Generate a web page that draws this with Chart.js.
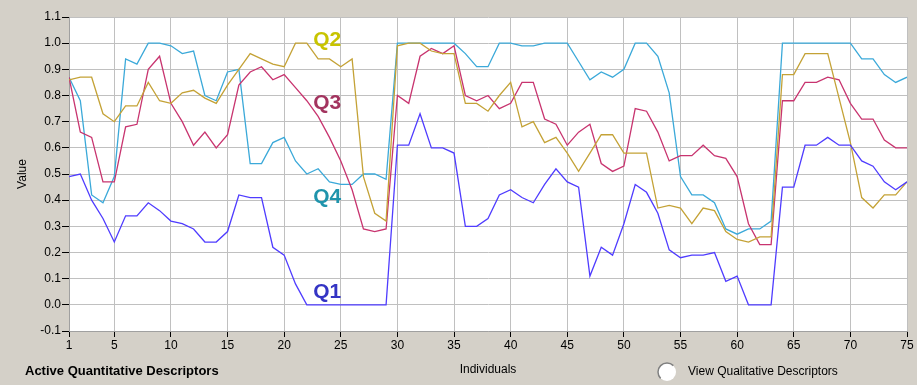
<!DOCTYPE html>
<html>
<head>
<meta charset="utf-8">
<script src="https://cdn.jsdelivr.net/npm/chart.js@4.4.1/dist/chart.umd.min.js"></script>
<style>
  html, body { margin: 0; padding: 0; background: #d4d0c8; }
  #wrap { width: 917px; height: 385px; }
</style>
</head>
<body>
<div id="wrap"><canvas id="chart" width="917" height="385"></canvas></div>
<script>
// Data (75 individuals, 4 quantitative descriptors)
const individuals = Array.from({ length: 75 }, (_, i) => i + 1);
const xTicks = [1, 5, 10, 15, 20, 25, 30, 35, 40, 45, 50, 55, 60, 65, 70, 75];
const yTicks = [-0.1, 0.0, 0.1, 0.2, 0.3, 0.4, 0.5, 0.6, 0.7, 0.8, 0.9, 1.0, 1.1];

const q1 = [0.49, 0.50, 0.40, 0.33, 0.24, 0.34, 0.34, 0.39, 0.36, 0.32,
            0.31, 0.29, 0.24, 0.24, 0.28, 0.42, 0.41, 0.41, 0.22, 0.19,
            0.08, 0.00, 0.00, 0.00, 0.00, 0.00, 0.00, 0.00, 0.00, 0.61,
            0.61, 0.73, 0.60, 0.60, 0.58, 0.30, 0.30, 0.33, 0.42, 0.44,
            0.41, 0.39, 0.46, 0.52, 0.47, 0.45, 0.11, 0.22, 0.19, 0.31,
            0.46, 0.43, 0.35, 0.21, 0.18, 0.19, 0.19, 0.20, 0.09, 0.11,
            0.00, 0.00, 0.00, 0.45, 0.45, 0.61, 0.61, 0.64, 0.61, 0.61,
            0.55, 0.53, 0.47, 0.44, 0.47];

const q2 = [0.86, 0.87, 0.87, 0.73, 0.70, 0.76, 0.76, 0.85, 0.78, 0.77,
            0.81, 0.82, 0.79, 0.77, 0.84, 0.90, 0.96, 0.94, 0.92, 0.91,
            1.00, 1.00, 0.94, 0.94, 0.91, 0.94, 0.49, 0.35, 0.32, 0.99,
            1.00, 1.00, 0.97, 0.96, 0.96, 0.77, 0.77, 0.74, 0.80, 0.85,
            0.68, 0.70, 0.62, 0.64, 0.58, 0.51, 0.58, 0.65, 0.65, 0.58,
            0.58, 0.58, 0.37, 0.38, 0.37, 0.31, 0.37, 0.36, 0.28, 0.25,
            0.24, 0.26, 0.26, 0.88, 0.88, 0.96, 0.96, 0.96, 0.79, 0.62,
            0.41, 0.37, 0.42, 0.42, 0.47];

const q3 = [0.87, 0.66, 0.64, 0.47, 0.47, 0.68, 0.69, 0.90, 0.95, 0.77,
            0.70, 0.61, 0.66, 0.60, 0.65, 0.84, 0.89, 0.91, 0.86, 0.88,
            0.83, 0.78, 0.72, 0.64, 0.55, 0.44, 0.29, 0.28, 0.29, 0.80,
            0.77, 0.95, 0.98, 0.96, 0.99, 0.80, 0.78, 0.80, 0.75, 0.77,
            0.85, 0.85, 0.71, 0.69, 0.61, 0.66, 0.69, 0.54, 0.51, 0.53,
            0.75, 0.74, 0.66, 0.55, 0.57, 0.57, 0.61, 0.57, 0.56, 0.49,
            0.31, 0.23, 0.23, 0.78, 0.78, 0.85, 0.85, 0.87, 0.86, 0.77,
            0.71, 0.71, 0.63, 0.60, 0.60];

const q4 = [0.87, 0.78, 0.42, 0.39, 0.49, 0.94, 0.92, 1.00, 1.00, 0.99,
            0.96, 0.97, 0.80, 0.78, 0.89, 0.90, 0.54, 0.54, 0.62, 0.64,
            0.55, 0.50, 0.52, 0.47, 0.46, 0.46, 0.50, 0.50, 0.48, 1.00,
            1.00, 1.00, 1.00, 1.00, 1.00, 0.96, 0.91, 0.91, 1.00, 1.00,
            0.99, 0.99, 1.00, 1.00, 1.00, 0.93, 0.86, 0.89, 0.87, 0.90,
            1.00, 1.00, 0.95, 0.81, 0.49, 0.42, 0.42, 0.39, 0.29, 0.27,
            0.29, 0.29, 0.32, 1.00, 1.00, 1.00, 1.00, 1.00, 1.00, 1.00,
            0.94, 0.94, 0.88, 0.85, 0.87];

const seriesNames = ['Q1', 'Q2', 'Q3', 'Q4'];
const seriesValues = [q1, q2, q3, q4];
const lineColors = ['#4f3cff', '#c4a236', '#c8346f', '#3ba9d9'];
const labelColors = ['#3434c4', '#c8c400', '#a3345f', '#1f94ac'];
// where each series name sits, in data units
const labelAt = [
    { x: 23.8, y: 0.05 },
    { x: 23.8, y: 1.01 },
    { x: 23.8, y: 0.77 },
    { x: 23.8, y: 0.41 }
];

const FONT = "'Liberation Sans', Arial, sans-serif";

function toPoints(values) {
    return values.map((v, i) => ({ x: individuals[i], y: v }));
}

// Gray window background + white plot area
const backgroundPlugin = {
    id: 'background',
    beforeDraw(chart) {
        const { ctx, chartArea: a } = chart;
        ctx.save();
        ctx.fillStyle = '#d4d0c8';
        ctx.fillRect(0, 0, chart.width, chart.height);
        ctx.fillStyle = '#ffffff';
        ctx.fillRect(a.left, a.top, a.right - a.left, a.bottom - a.top);
        ctx.restore();
    }
};

// Series names on the plot, and the bottom controls
const annotationsPlugin = {
    id: 'annotations',
    afterDatasetsDraw(chart) {
        const { ctx, scales } = chart;
        ctx.save();
        ctx.font = 'bold 21px ' + FONT;
        ctx.textAlign = 'center';
        ctx.textBaseline = 'middle';
        seriesNames.forEach((name, i) => {
            ctx.fillStyle = labelColors[i];
            ctx.fillText(name, scales.x.getPixelForValue(labelAt[i].x), scales.y.getPixelForValue(labelAt[i].y));
        });
        ctx.restore();
    },
    afterDraw(chart) {
        const { ctx } = chart;
        ctx.save();
        ctx.fillStyle = '#000';
        ctx.textBaseline = 'middle';
        ctx.textAlign = 'left';
        ctx.font = 'bold 13px ' + FONT;
        ctx.fillText('Active Quantitative Descriptors', 25, 371);

        // radio button
        ctx.beginPath();
        ctx.arc(667, 372, 9, 0, Math.PI * 2);
        ctx.fillStyle = '#ffffff';
        ctx.fill();
        ctx.beginPath();
        ctx.arc(667, 372, 9, Math.PI * 0.75, Math.PI * 1.75);
        ctx.strokeStyle = '#808080';
        ctx.lineWidth = 1.5;
        ctx.stroke();

        ctx.fillStyle = '#000';
        ctx.font = '12px ' + FONT;
        ctx.fillText('View Qualitative Descriptors', 688, 372);
        ctx.restore();
    }
};

const ctx = document.getElementById('chart').getContext('2d');

new Chart(ctx, {
    type: 'line',
    data: {
        datasets: seriesNames.map((name, i) => ({
            label: name,
            data: toPoints(seriesValues[i]),
            borderColor: lineColors[i],
            borderWidth: 1.3,
            pointRadius: 0,
            tension: 0,
            fill: false
        }))
    },
    options: {
        responsive: false,
        animation: false,
        layout: { padding: { top: 17, right: 10, left: 0, bottom: 0 } },
        plugins: {
            legend: { display: false },
            tooltip: { enabled: false }
        },
        scales: {
            x: {
                type: 'linear',
                min: 1,
                max: 75,
                afterBuildTicks: scale => { scale.ticks = xTicks.map(v => ({ value: v })); },
                afterFit: scale => { scale.height = 54; },
                grid: { color: '#c0c0c0', tickColor: '#000', tickLength: 6 },
                border: { color: '#a0a0a0' },
                ticks: {
                    color: '#000',
                    padding: 1,
                    maxRotation: 0,
                    autoSkip: false,
                    font: { family: FONT, size: 12 }
                },
                title: {
                    display: true,
                    text: 'Individuals',
                    color: '#000',
                    padding: { top: 0, bottom: 8 },
                    font: { family: FONT, size: 12 }
                }
            },
            y: {
                min: -0.1,
                max: 1.1,
                afterBuildTicks: scale => { scale.ticks = yTicks.map(v => ({ value: v })); },
                afterFit: scale => { scale.width = 69; },
                grid: { color: '#c0c0c0', tickColor: '#000', tickLength: 7 },
                border: { color: '#a0a0a0' },
                ticks: {
                    color: '#000',
                    padding: 1,
                    autoSkip: false,
                    font: { family: FONT, size: 12 },
                    callback: v => v.toFixed(1)
                },
                title: {
                    display: true,
                    text: 'Value',
                    color: '#000',
                    padding: { top: 15, bottom: 0 },
                    font: { family: FONT, size: 12 }
                }
            }
        }
    },
    plugins: [backgroundPlugin, annotationsPlugin]
});
</script>
</body>
</html>
